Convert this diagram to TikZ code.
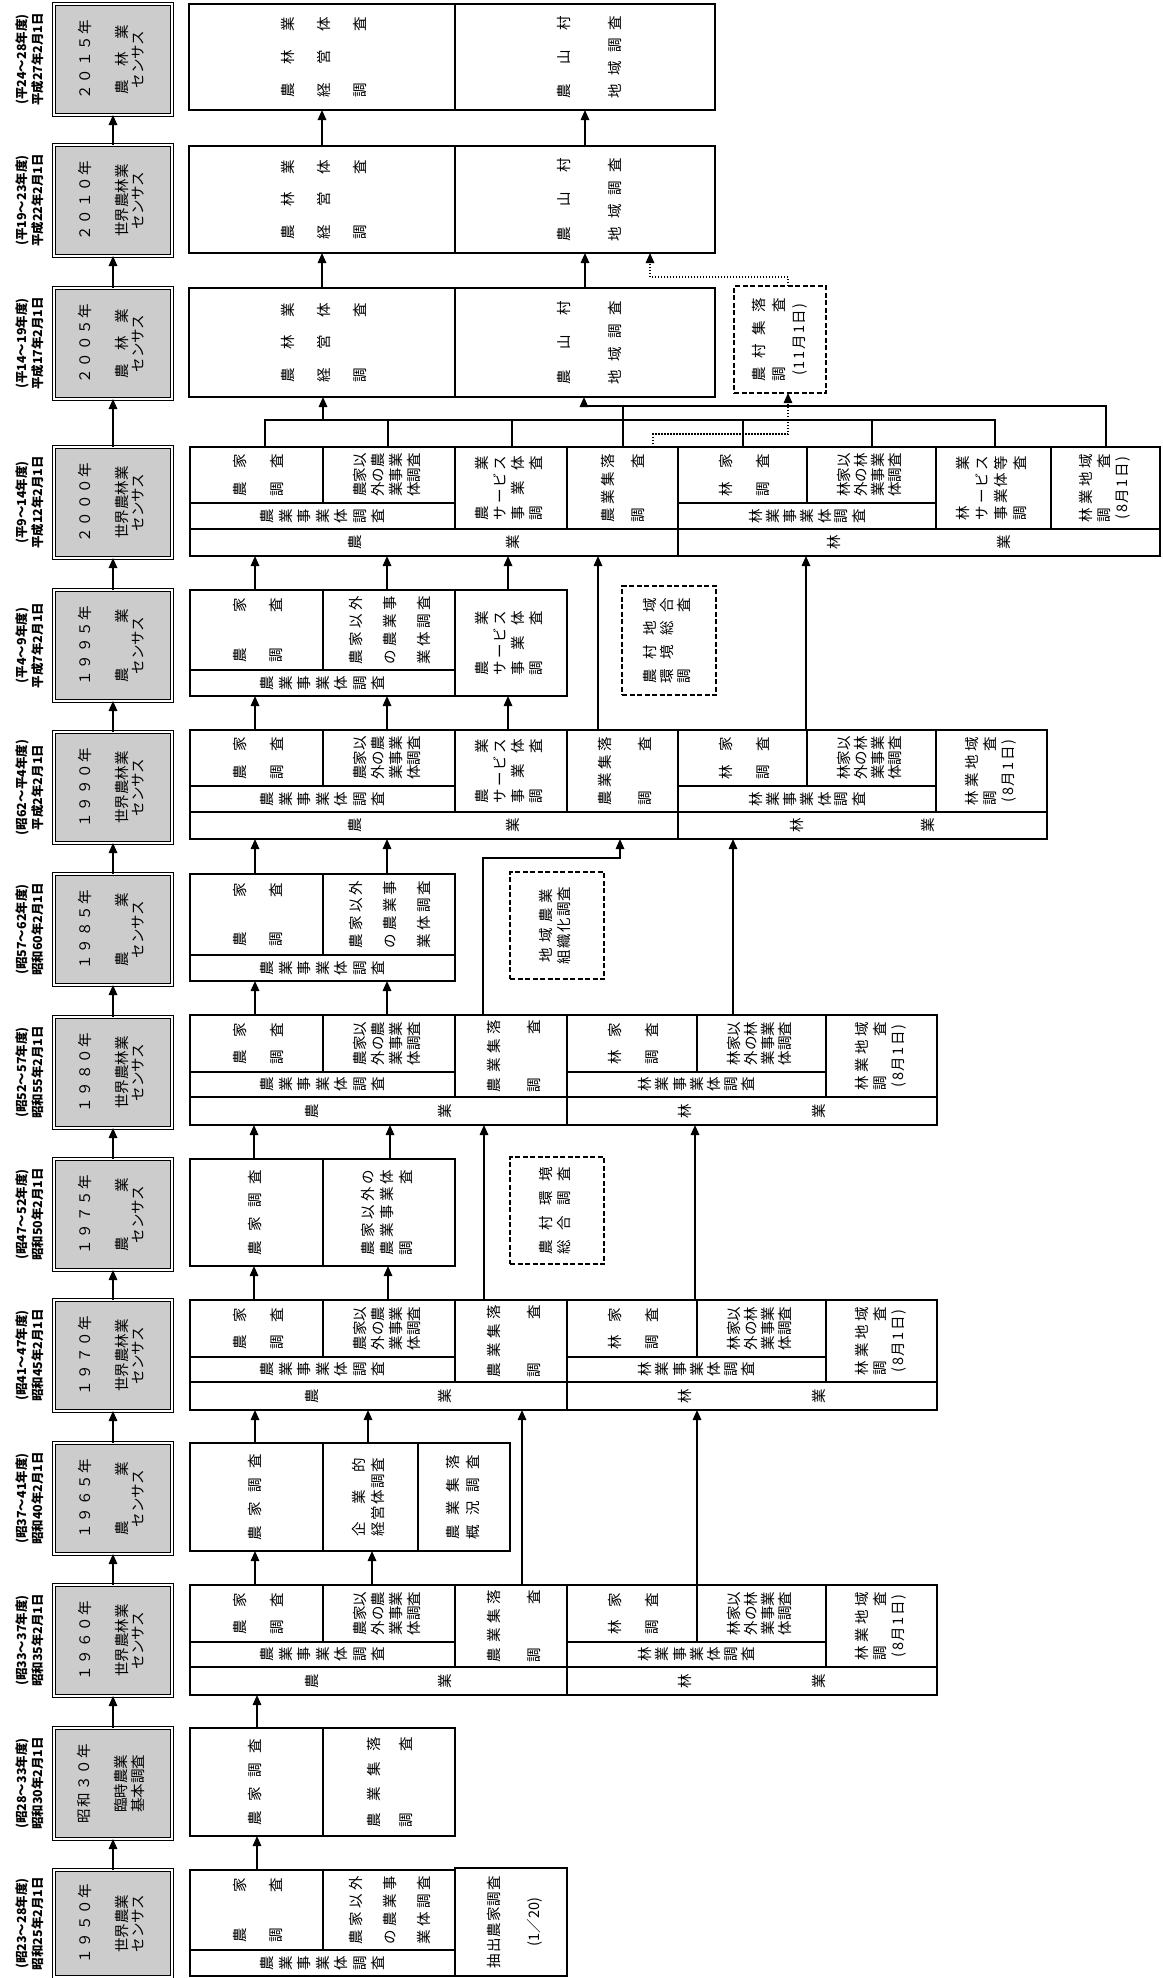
\documentclass[tikz,border=0pt]{standalone}
\usepackage{fontspec}
\usepackage{graphicx}
\usetikzlibrary{arrows.meta}
\newfontfamily\jp{Noto Sans CJK JP}
\makeatletter
\newcommand\spr[2]{\makebox[#1pt][s]{\spr@a#2\@nil}}
\def\spr@a#1#2\@nil{#1\ifx\relax#2\relax\else\hfill\spr@a#2\@nil\fi}
\newcommand\vsp[2]{\makebox[#1pt][s]{\vsp@a#2\@nil}}
\def\vsp@a#1#2\@nil{\rotatebox{90}{#1}\ifx\relax#2\relax\else\hfill\vsp@a#2\@nil\fi}
\makeatother
\newcommand\tb[2]{\rotatebox{90}{\fontsize{14.5}{#1}\selectfont\begin{tabular}{@{}c@{}}#2\end{tabular}}}
\newcommand\cell[7][]{\node[cellbox,#1,minimum width={#5pt-#3pt},minimum height={#6pt-#4pt}] (#2) at ({(#3+#5)/2},{(#4+#6)/2}) {#7};}
\newcommand\cbox[6]{\node[cen,minimum width=118pt,minimum height={#3pt}] (#1) at (113,{#2+#3/2}) {\tb{16}{#4\\[20pt]#5\\#6}};}
\newcommand\dlab[4]{\node[lab] (#1a) at (22,{#2}) {\rotatebox{90}{#3}}; \node[lab] (#1b) at (37.5,{#2}) {\rotatebox{90}{#4}};}
\newcommand\up[3]{\coordinate (tmpx) at (#3,0); \draw[arr] (#1.north -| tmpx) -- (#2.south -| tmpx);}
% cell texts
\newcommand\tNKs{\tb{37}{\spr{42}{農家}\\\spr{42}{調査}}}
\newcommand\tNKt{\tb{36}{\spr{64}{農家}\\\spr{64}{調査}}}
\newcommand\tNKo{\tb{15}{\spr{86}{農家調査}}}
\newcommand\tNIf{\tb{18}{農家以\\外の農\\業事業\\体調査}}
\newcommand\tNIt{\tb{34}{\spr{68}{農家以外}\\\spr{68}{の農業事}\\\spr{68}{業体調査}}}
\newcommand\tNJ{\vsp{124}{農業事業体調査}}
\newcommand\tRK{\tb{37}{\spr{42}{林家}\\\spr{42}{調査}}}
\newcommand\tRI{\tb{17}{林家以\\外の林\\業事業\\体調査}}
\newcommand\tRJ{\vsp{116}{林業事業体調査}}
\newcommand\tRC{\tb{18}{\spr{68}{林業地域}\\\spr{68}{調査}\\\spr{62}{(8月1日)}}}
\newcommand\tNS[2]{\tb{#1}{\spr{#2}{農業集落}\\\spr{#2}{調査}}}
\newcommand\tNSV{\tb{18}{\spr{64}{農業}\\\spr{64}{サービス}\\\spr{64}{事業体}\\\spr{64}{調査}}}
\newcommand\tRSV{\tb{19}{\spr{64}{林業}\\\spr{64}{サービス}\\\spr{64}{事業体等}\\\spr{64}{調査}}}
\newcommand\tKT{\tb{36}{\spr{80}{農林業}\\\spr{80}{経営体}\\\spr{80}{調査}}}
\newcommand\tSA{\tb{51}{\spr{83}{農山村}\\\spr{83}{地域調査}}}
\newcommand\fullrow[2]{%
\pgfmathsetmacro\Ta{#2}\pgfmathsetmacro\Tb{#2+57}\pgfmathsetmacro\Tc{#2+82}\pgfmathsetmacro\Td{#2+110}%
\cell{#1nk}{190}{\Ta}{323}{\Tb}{\tNKs}
\cell{#1ni}{323}{\Ta}{455}{\Tb}{\tNIf}
\cell{#1nj}{190}{\Tb}{455}{\Tc}{\tNJ}
\cell{#1ns}{455}{\Ta}{567}{\Tc}{\tNS{40}{72}}
\cell{#1rk}{567}{\Ta}{697}{\Tb}{\tRK}
\cell{#1ri}{697}{\Ta}{826}{\Tb}{\tRI}
\cell{#1rj}{567}{\Tb}{826}{\Tc}{\tRJ}
\cell{#1rc}{826}{\Ta}{937}{\Tc}{\tRC}
\cell{#1na}{190}{\Tc}{567}{\Td}{\vsp{146}{農業}}
\cell{#1ra}{567}{\Tc}{937}{\Td}{\vsp{147}{林業}}
}
\tikzset{
 cellbox/.style={draw, line width=1.3pt, inner sep=0pt, outer sep=0pt, font=\jp\fontsize{14.5}{16}\selectfont},
 dsh/.style={dash pattern=on 5pt off 2.5pt},
 cen/.style={draw, double, double distance=1.6pt, line width=1.2pt, fill=black!20, inner sep=0pt, outer sep=0pt, font=\jp\fontsize{14.5}{16}\selectfont},
 lab/.style={inner sep=0pt, font=\jp\bfseries\fontsize{12.5}{14}\selectfont},
 arr/.style={line width=1.6pt, -{Triangle[width=8.5pt,length=10pt]}},
 ln/.style={line width=1.5pt},
 dotarr/.style={line width=1.5pt, dash pattern=on 1.5pt off 1.5pt, -{Triangle[width=8.5pt,length=10pt]}},
}
\begin{document}
\begin{tikzpicture}[x=1pt,y=-1pt]
\fill[white] (0,0) rectangle (1162,1978);
\useasboundingbox (0,0) rectangle (1162,1978);
% census boxes
\cbox{b15}{4}{111}{\spr{80}{２０１５年}}{\spr{70}{農林業}}{センサス}
\cbox{b10}{145}{111}{\spr{80}{２０１０年}}{世界農林業}{センサス}
\cbox{b05}{288}{111}{\spr{80}{２００５年}}{\spr{70}{農林業}}{センサス}
\cbox{b00}{447}{111}{\spr{80}{２０００年}}{世界農林業}{センサス}
\cbox{b95}{590}{111}{\spr{80}{１９９５年}}{\spr{74}{農業}}{センサス}
\cbox{b90}{732}{111}{\spr{80}{１９９０年}}{世界農林業}{センサス}
\cbox{b85}{874}{111}{\spr{80}{１９８５年}}{\spr{74}{農業}}{センサス}
\cbox{b80}{1017}{111}{\spr{80}{１９８０年}}{世界農林業}{センサス}
\cbox{b75}{1159}{111}{\spr{80}{１９７５年}}{\spr{74}{農業}}{センサス}
\cbox{b70}{1300}{111}{\spr{80}{１９７０年}}{世界農林業}{センサス}
\cbox{b65}{1443}{111}{\spr{80}{１９６５年}}{\spr{74}{農業}}{センサス}
\cbox{b60}{1585}{111}{\spr{80}{１９６０年}}{世界農林業}{センサス}
\cbox{b55}{1728}{111}{\spr{80}{昭和３０年}}{臨時農業}{基本調査}
\cbox{b50}{1870}{107}{\spr{80}{１９５０年}}{世界農業}{センサス}
\draw[arr] (b50.north) -- (b55.south);
\draw[arr] (b55.north) -- (b60.south);
\draw[arr] (b60.north) -- (b65.south);
\draw[arr] (b65.north) -- (b70.south);
\draw[arr] (b70.north) -- (b75.south);
\draw[arr] (b75.north) -- (b80.south);
\draw[arr] (b80.north) -- (b85.south);
\draw[arr] (b85.north) -- (b90.south);
\draw[arr] (b90.north) -- (b95.south);
\draw[arr] (b95.north) -- (b00.south);
\draw[arr] (b00.north) -- (b05.south);
\draw[arr] (b05.north) -- (b10.south);
\draw[arr] (b10.north) -- (b15.south);
% date labels
\dlab{d15}{59.5}{(平24～28年度)}{平成27年2月1日}
\dlab{d10}{200.5}{(平19～23年度)}{平成22年2月1日}
\dlab{d05}{343.5}{(平14～19年度)}{平成17年2月1日}
\dlab{d00}{502.5}{(平9～14年度)}{平成12年2月1日}
\dlab{d95}{645.5}{(平4～9年度)}{平成7年2月1日}
\dlab{d90}{787.5}{(昭62～平4年度)}{平成2年2月1日}
\dlab{d85}{929.5}{(昭57～62年度)}{昭和60年2月1日}
\dlab{d80}{1072.5}{(昭52～57年度)}{昭和55年2月1日}
\dlab{d75}{1214.5}{(昭47～52年度)}{昭和50年2月1日}
\dlab{d70}{1355.5}{(昭41～47年度)}{昭和45年2月1日}
\dlab{d65}{1498.5}{(昭37～41年度)}{昭和40年2月1日}
\dlab{d60}{1640.5}{(昭33～37年度)}{昭和35年2月1日}
\dlab{d55}{1783.5}{(昭28～33年度)}{昭和30年2月1日}
\dlab{d50}{1923.5}{(昭23～28年度)}{昭和25年2月1日}
% 1950
\cell{r50nk}{190}{1870}{323}{1950}{\tNKt}
\cell{r50ni}{323}{1870}{455}{1950}{\tNIt}
\cell{r50nj}{190}{1950}{455}{1976}{\tNJ}
\cell{r50cs}{455}{1868}{567}{1976}{\tb{40}{\spr{92}{抽出農家調査}\\(1／20)}}
% 1955
\cell{r55nk}{190}{1728}{323}{1836}{\tNKo}
\cell{r55ns}{323}{1728}{455}{1836}{\tb{32}{\spr{90}{農業集落}\\\spr{90}{調査}}}
% 1960, 1970, 1980
\fullrow{r60}{1585}
\fullrow{r70}{1300}
\fullrow{r80}{1015}
% 1965
\cell{r65nk}{190}{1443}{323}{1551}{\tNKo}
\cell{r65ke}{323}{1443}{418}{1551}{\tb{19}{\spr{78}{企業的}\\\spr{78}{経営体調査}}}
\cell{r65gs}{418}{1443}{510}{1551}{\tb{20}{\spr{84}{農業集落}\\\spr{84}{概況調査}}}
% 1975
\cell{r75nk}{190}{1159}{323}{1266}{\tNKo}
\cell{r75ni}{323}{1159}{455}{1266}{\tb{19}{\spr{86}{農家以外の}\\\spr{86}{農業事業体}\\\spr{86}{調査}}}
\cell[dsh]{r75kk}{510}{1157}{604}{1264}{\tb{17}{\spr{88}{農村環境}\\\spr{88}{総合調査}}}
% 1985
\cell{r85nk}{190}{874}{323}{955}{\tNKt}
\cell{r85ni}{323}{874}{455}{955}{\tNIt}
\cell{r85nj}{190}{955}{455}{981}{\tNJ}
\cell[dsh]{r85ch}{510}{872}{604}{979}{\tb{17}{\spr{74}{地域農業}\\\spr{78}{組織化調査}}}
% 1990
\cell{r90nk}{190}{730}{323}{786}{\tNKs}
\cell{r90ni}{323}{730}{455}{786}{\tNIf}
\cell{r90nj}{190}{786}{455}{812}{\tNJ}
\cell{r90nsv}{455}{730}{567}{812}{\tNSV}
\cell{r90ns}{567}{730}{678}{812}{\tNS{40}{68}}
\cell{r90rk}{678}{730}{807}{786}{\tRK}
\cell{r90ri}{807}{730}{936}{786}{\tRI}
\cell{r90rj}{678}{786}{936}{812}{\tRJ}
\cell{r90rc}{936}{730}{1047}{812}{\tRC}
\cell{r90na}{190}{812}{678}{839}{\vsp{172}{農業}}
\cell{r90ra}{678}{812}{1047}{839}{\vsp{144}{林業}}
% 1995
\cell{r95nk}{190}{590}{323}{670}{\tNKt}
\cell{r95ni}{323}{590}{455}{670}{\tNIt}
\cell{r95nj}{190}{670}{455}{696}{\tNJ}
\cell{r95nsv}{455}{590}{567}{696}{\tNSV}
\cell[dsh]{r95nc}{622}{586}{716}{695}{\tb{16}{\spr{86}{農村地域}\\\spr{86}{環境総合}\\\spr{86}{調査}}}
% 2000
\cell{r00nk}{190}{447}{323}{503}{\tNKs}
\cell{r00ni}{323}{447}{455}{503}{\tNIf}
\cell{r00nj}{190}{503}{455}{529}{\tNJ}
\cell{r00nsv}{455}{447}{567}{529}{\tNSV}
\cell{r00ns}{567}{447}{678}{529}{\tNS{30}{68}}
\cell{r00rk}{678}{447}{807}{503}{\tRK}
\cell{r00ri}{807}{447}{936}{503}{\tRI}
\cell{r00rj}{678}{503}{936}{529}{\tRJ}
\cell{r00rsv}{936}{447}{1051}{529}{\tRSV}
\cell{r00rc}{1051}{447}{1160}{529}{\tRC}
\cell{r00na}{190}{529}{678}{556}{\vsp{172}{農業}}
\cell{r00ra}{678}{529}{1160}{556}{\vsp{183}{林業}}
% 2005-2015
\cell{r05kt}{189}{288}{455}{397}{\tKT}
\cell{r05sa}{455}{288}{715}{397}{\tSA}
\cell[dsh]{r05nc}{734}{286}{826}{393}{\tb{20}{\spr{84}{農村集落}\\\spr{84}{調査}\\\spr{72}{(11月1日)}}}
\cell{r10kt}{189}{146}{455}{253}{\tKT}
\cell{r10sa}{455}{146}{715}{253}{\tSA}
\cell{r15kt}{189}{4}{455}{110}{\tKT}
\cell{r15sa}{455}{4}{715}{110}{\tSA}
% arrows
\up{r50nk}{r55nk}{257}
\up{r55nk}{r60na}{257}
\up{r60nk}{r65nk}{255}
\up{r60ni}{r65ke}{372}
\up{r60ns}{r70na}{522}
\up{r60rk}{r70ra}{697}
\up{r65nk}{r70na}{255}
\up{r65ke}{r70na}{368}
\up{r70nk}{r75nk}{254}
\up{r70ni}{r75ni}{388}
\up{r70ns}{r80na}{484}
\up{r70rk}{r80ra}{695}
\up{r75nk}{r80na}{254}
\up{r75ni}{r80na}{390}
\up{r80nk}{r85nj}{255}
\up{r80ni}{r85nj}{387}
\up{r80ri}{r90ra}{733}
\up{r85nk}{r90na}{255}
\up{r85ni}{r90na}{387}
\up{r90nk}{r95nj}{255}
\up{r90ni}{r95nj}{387}
\up{r90nsv}{r95nsv}{508}
\up{r90ns}{r00na}{598}
\up{r90rk}{r00ra}{806}
\up{r95nk}{r00na}{255}
\up{r95ni}{r00na}{387}
\up{r95nsv}{r00na}{508}
\up{r05kt}{r10kt}{322}
\up{r05sa}{r10sa}{585}
\up{r10kt}{r15kt}{322}
\up{r10sa}{r15sa}{585}
\foreach \v in {265,323,388,483,512,584,620,623,650,653,743,788,872,995,1106} {\coordinate (x\v) at (\v,0);}
\coordinate (busL) at (0,420);
\coordinate (busU) at (0,406);
\coordinate (dtA) at (0,434);
\coordinate (dtB) at (0,277);
\coordinate (crn) at (0,858);
\draw[arr] (r80ns.north -| x483) -- (x483 |- crn) -- (x620 |- crn) -- (r90na.south -| x620);
\draw[ln] (r00nk.north -| x265) -- (x265 |- busL) -- (x995 |- busL) -- (r00rsv.north -| x995);
\foreach \n/\v in {ni/388, nsv/512, rk/743, ri/872} {\draw[ln] (r00\n.north -| x\v) -- (x\v |- busL);}
\draw[arr] (x323 |- busL) -- (r05kt.south -| x323);
\draw[arr] (r00rc.north -| x1106) -- (x1106 |- busU) -- (x584 |- busU) -- (r05sa.south -| x584);
\draw[ln] (r00ns.north -| x623) -- (x623 |- busU);
\draw[dotarr] (r00ns.north -| x653) -- (x653 |- dtA) -- (x788 |- dtA) -- (r05nc.south -| x788);
\draw[dotarr] (r05nc.north -| x788) -- (x788 |- dtB) -- (x650 |- dtB) -- (r10sa.south -| x650);
\end{tikzpicture}
\end{document}
